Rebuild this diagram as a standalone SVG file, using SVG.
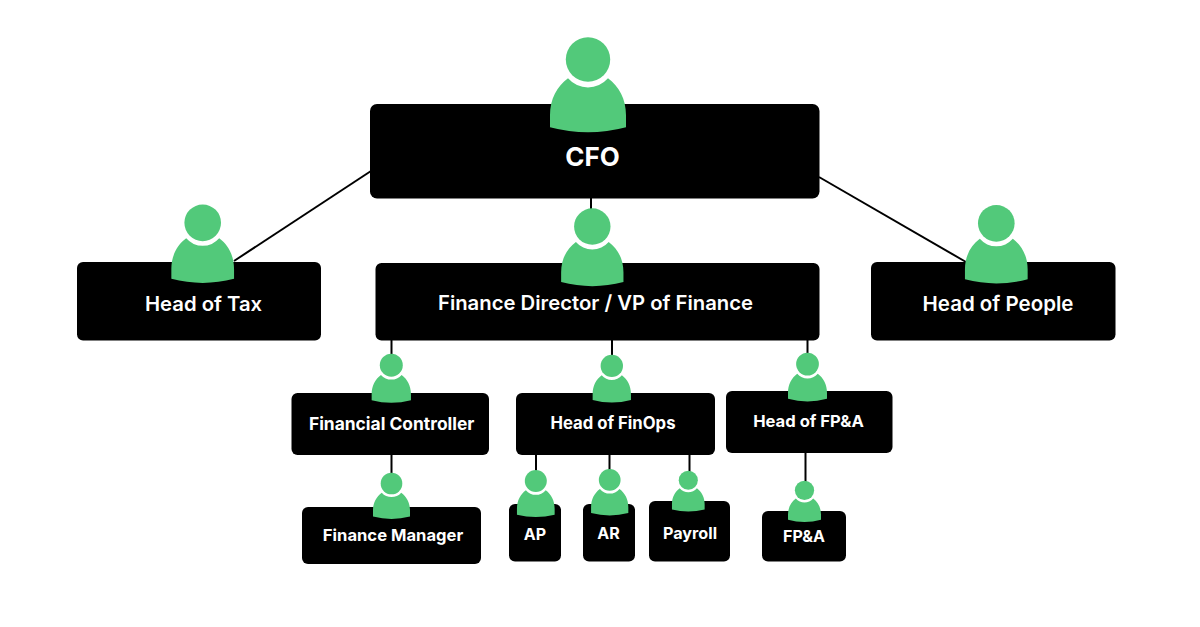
<svg xmlns="http://www.w3.org/2000/svg" width="1200" height="627" viewBox="0 0 1200 627">
<style>
.box{fill:#000}
.c{stroke:#000;stroke-width:2;fill:none}
text{font-family:Inter,"Liberation Sans",sans-serif;font-weight:600;fill:#fff;text-anchor:middle}
.b{font-weight:700}
</style>
<defs>
<g id="person" fill="#52c97a">
<circle cx="0" cy="22.2" r="22.2"/>
<path d="M-38 90V78C-38 62-31 49-20 41A26.5 26.500 0 0 0 20 41C31 49 38 62 38 78V90Q0 100-38 90Z"/>
</g>
</defs>
<rect width="1200" height="627" fill="#fff"/>
<g id="connectors">
<path class="c" d="M371 171L234 261"/>
<path class="c" d="M819 177L966 262"/>
<path class="c" d="M591 198V212"/>
<path class="c" d="M391.500 340V356"/>
<path class="c" d="M612 340V357"/>
<path class="c" d="M807.500 340V355"/>
<path class="c" d="M391.500 455V475"/>
<path class="c" d="M536 455V472"/>
<path class="c" d="M609.500 455V471"/>
<path class="c" d="M689.500 455V473"/>
<path class="c" d="M805.500 453V483"/>
</g>
<g id="cfo"><rect class="box" x="370" y="104" width="449.500" height="94.500" rx="7"/><use href="#person" transform="translate(588 37.300)"/><text class="b" x="592.500" y="165.500" font-size="26">CFO</text></g>
<g id="head-of-tax"><rect class="box" x="77" y="262" width="244" height="78.500" rx="6"/><use href="#person" transform="translate(202.700 204.500) scale(.825)"/><text x="203.500" y="311" font-size="20.300">Head of Tax</text></g>
<g id="finance-director"><rect class="box" x="375.500" y="263" width="444" height="77.500" rx="6"/><use href="#person" transform="translate(592.300 208.300) scale(.82)"/><text x="595.500" y="310" font-size="20.300">Finance Director / VP of Finance</text></g>
<g id="head-of-people"><rect class="box" x="871" y="262" width="244.500" height="78.500" rx="6"/><use href="#person" transform="translate(996.300 205) scale(.825)"/><text x="998" y="311" font-size="20.500">Head of People</text></g>
<g id="financial-controller"><rect class="box" x="291.500" y="393" width="197.500" height="62" rx="6"/><use href="#person" transform="translate(391.300 353.700) scale(.517)"/><text class="b" x="391.700" y="430" font-size="17.400">Financial Controller</text></g>
<g id="head-of-finops"><rect class="box" x="516" y="393" width="199" height="62" rx="6"/><use href="#person" transform="translate(611.800 354.700) scale(.504)"/><text class="b" x="613" y="429" font-size="16.700">Head of FinOps</text></g>
<g id="head-of-fpa"><rect class="box" x="726" y="391" width="166.500" height="62" rx="6"/><use href="#person" transform="translate(807.500 352.700) scale(.513)"/><text class="b" x="808.500" y="427" font-size="16.600">Head of FP&amp;A</text></g>
<g id="finance-manager"><rect class="box" x="302" y="507" width="179" height="57" rx="6"/><use href="#person" transform="translate(391.500 472.700) scale(.487)"/><text class="b" x="393" y="541" font-size="16.600">Finance Manager</text></g>
<g id="ap"><rect class="box" x="509" y="504" width="52" height="57.500" rx="6"/><use href="#person" transform="translate(535.800 470) scale(.496)"/><text class="b" x="535" y="540" font-size="16">AP</text></g>
<g id="ar"><rect class="box" x="583" y="504" width="52" height="57.500" rx="6"/><use href="#person" transform="translate(609.700 469) scale(.49)"/><text class="b" x="608.500" y="539" font-size="16">AR</text></g>
<g id="payroll"><rect class="box" x="649" y="501" width="81" height="60.500" rx="6"/><use href="#person" transform="translate(688.300 470.700) scale(.43)"/><text class="b" x="690" y="539" font-size="16.200">Payroll</text></g>
<g id="fpa"><rect class="box" x="762" y="511" width="84" height="50.500" rx="6"/><use href="#person" transform="translate(804.500 480.700) scale(.434)"/><text class="b" x="804" y="542" font-size="16">FP&amp;A</text></g>
</svg>
